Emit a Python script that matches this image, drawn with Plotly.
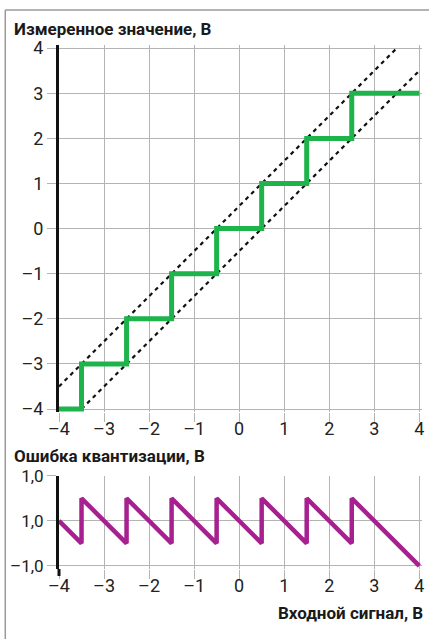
import plotly.graph_objects as go

# step characteristic of the quantizer
step_x = [-4, -3.5, -3.5, -2.5, -2.5, -1.5, -1.5, -0.5, -0.5, 0.5, 0.5, 1.5, 1.5, 2.5, 2.5, 4]
step_y = [-4, -4, -3, -3, -2, -2, -1, -1, 0, 0, 1, 1, 2, 2, 3, 3]

# quantization error
err_x = step_x
err_y = [0, -0.5, 0.5, -0.5, 0.5, -0.5, 0.5, -0.5, 0.5, -0.5, 0.5, -0.5, 0.5, -0.5, 0.5, -1]

# +/- half step boundaries (dashed)
upper_x = [-4, 3.5]
upper_y = [-3.5, 4]
lower_x = [-3.5, 4]
lower_y = [-4, 3.5]

x_ticks = [-4, -3, -2, -1, 0, 1, 2, 3, 4]
x_labels = ["–4", "–3", "–2", "–1", "0", "1", "2", "3", "4"]
y_ticks = [-4, -3, -2, -1, 0, 1, 2, 3, 4]
y_labels = ["–4", "–3", "–2", "–1", "0", "1", "2", "3", "4"]
err_ticks = [-1, 0, 1]
err_labels = ["–1,0", "1,0", "1,0"]

GREEN = "#1fb34c"
MAGENTA = "#a6218f"
GRID = "#b4b4b4"
FONT = "Roboto, Liberation Sans, sans-serif"

W, H = 430, 639
ML, MR, MT, MB = 59, 6, 45, 70
PW, PH = W - ML - MR, H - MT - MB


def px(x):
    return (x - ML) / PW


def py(y):
    return (H - MB - y) / PH


fig = go.Figure()

fig.add_trace(go.Scatter(x=upper_x, y=upper_y, mode="lines",
                         line=dict(color="#111", width=2.2, dash="4px,4px"),
                         xaxis="x", yaxis="y", hoverinfo="skip"))
fig.add_trace(go.Scatter(x=lower_x, y=lower_y, mode="lines",
                         line=dict(color="#111", width=2.2, dash="4px,4px"),
                         xaxis="x", yaxis="y", hoverinfo="skip"))
fig.add_trace(go.Scatter(x=step_x, y=step_y, mode="lines",
                         line=dict(color=GREEN, width=5),
                         xaxis="x", yaxis="y"))
fig.add_trace(go.Scatter(x=err_x, y=err_y, mode="lines",
                         line=dict(color=MAGENTA, width=4.5),
                         xaxis="x2", yaxis="y2"))

axis_common = dict(
    showgrid=True, gridcolor=GRID, gridwidth=1,
    ticks="outside", ticklen=9, tickcolor=GRID, tickwidth=1,
    zeroline=False,
    tickfont=dict(family=FONT, size=18, color="#222"),
)

fig.update_layout(
    width=W, height=H,
    margin=dict(l=ML, r=MR, t=MT, b=MB),
    paper_bgcolor="white", plot_bgcolor="white",
    showlegend=False,
    xaxis=dict(axis_common, range=[-4, 4.06], tickvals=x_ticks, ticktext=x_labels,
               anchor="y", showline=False, ticklabelstandoff=-9),
    yaxis=dict(axis_common, range=[-4.07, 4.07], tickvals=y_ticks, ticktext=y_labels,
               domain=[0.2992, 1], anchor="x",
               showline=True, linecolor="#111", linewidth=3),
    xaxis2=dict(axis_common, range=[-4, 4.06], tickvals=x_ticks, ticktext=x_labels,
                anchor="y2", showline=False, ticklabelstandoff=-9),
    yaxis2=dict(axis_common, range=[-1.07, 1.0], tickvals=err_ticks, ticktext=err_labels,
                domain=[0, 0.1779], anchor="x2",
                showline=True, linecolor="#111", linewidth=3),
)
fig.update_layout(yaxis2_tickfont_size=17)

# frame around the figure (top and left edges)
fig.add_shape(type="line", xref="paper", yref="paper",
              x0=px(5), x1=px(431), y0=py(10), y1=py(10),
              line=dict(color="#9a9a9a", width=1.5))
fig.add_shape(type="line", xref="paper", yref="paper",
              x0=px(5), x1=px(5), y0=py(10), y1=py(640),
              line=dict(color="#9a9a9a", width=1.5))
# black axis extension below the error plot
fig.add_shape(type="line", xref="paper", yref="paper",
              x0=0, x1=0, y0=0, y1=py(576),
              line=dict(color="#111", width=3))

title_font = dict(family=FONT, size=17, color="#1a1a1a")
fig.add_annotation(text="<b>Измеренное значение, В</b>", xref="paper", yref="paper",
                   x=px(12), y=py(29), xanchor="left", yanchor="middle",
                   showarrow=False, font=title_font)
fig.add_annotation(text="<b>Ошибка квантизации, В</b>", xref="paper", yref="paper",
                   x=px(12), y=py(456), xanchor="left", yanchor="middle",
                   showarrow=False, font=title_font)
fig.add_annotation(text="<b>Входной сигнал, В</b>", xref="paper", yref="paper",
                   x=px(427), y=py(613), xanchor="right", yanchor="middle",
                   showarrow=False, font=title_font)

fig.write_html("out.html", config={"displayModeBar": False},
               post_script="document.body.style.margin='0';")
